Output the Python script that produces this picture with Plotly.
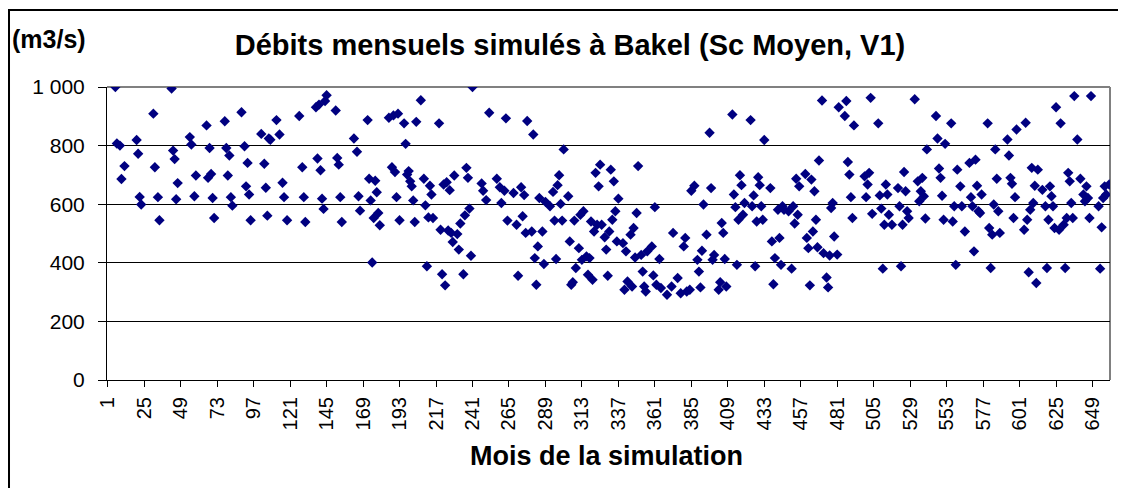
"""Débits mensuels simulés à Bakel - nuage de points mensuel."""

import plotly.graph_objects as go

# mois de la simulation (1..660) et débit simulé (m3/s)
mois = [
    6, 7, 9, 10, 12, 20, 21, 22, 23, 31, 32, 34, 35, 43, 44, 45, 46, 47,
    55, 56, 58, 59, 66, 67, 68, 69, 70, 71, 78, 79, 80, 81, 82, 83,
    89, 91, 92, 93, 94, 95, 102, 104, 105, 106, 107, 108,
    112, 114, 116, 117, 119, 127, 129, 130, 131, 138, 139, 140, 141, 142,
    143, 144, 145, 151, 152, 153, 154, 155, 163, 165, 166, 167, 172, 173,
    174, 175, 176, 177, 178, 179, 180, 186, 188, 189, 190, 191, 192, 193,
    196, 197, 198, 199, 200, 201, 202, 203, 204, 207, 209, 210, 211, 212,
    213, 214, 215, 219, 220, 221, 222, 223,
    224, 225, 226, 227, 228, 229, 231, 232, 233, 235, 236, 237, 238, 239,
    240, 241, 247, 248, 250, 252, 257, 259, 260, 262, 263, 264, 268, 270,
    271, 273, 274, 275, 276, 277, 280, 281, 282, 283, 284, 285, 287, 288,
    289, 292, 294, 295, 296, 297, 298, 299, 300, 301, 304, 305, 306, 307,
    308, 309, 311, 312, 313, 314, 316, 317, 318, 319, 320, 321, 322, 323,
    324, 325, 326, 328, 329, 330, 331, 332, 333, 334, 335, 336,
    337, 340, 341, 342, 343, 345, 346, 347, 348, 349, 350, 352, 353, 354,
    355, 356, 359, 360, 361, 362, 364, 365, 369, 372, 373, 376, 378, 380,
    381, 382, 384, 385, 387, 389, 390, 391, 392, 393, 395, 397, 398, 399,
    400, 403, 404, 405, 406, 407, 408, 412, 413, 414, 415, 416, 417, 418,
    419, 420, 424, 425, 426, 427, 428, 429, 430, 431, 432, 433, 437, 438,
    439, 440, 442, 443, 444, 445,
    446, 449, 451, 452, 453, 454, 455, 456, 460, 461, 462, 463, 464, 465,
    466, 467, 468, 469, 471, 472, 474, 475, 476, 477, 478, 479, 481, 482,
    486, 487, 488, 489, 490, 491, 492, 499, 500, 501, 502, 503, 504, 508,
    509, 510, 511, 512, 513, 514, 515, 517, 521, 522, 523, 524, 525, 526,
    527, 528, 532, 534, 535, 536, 537, 538, 539, 540, 546, 547, 548, 549,
    550, 551, 552, 556, 557, 558, 559,
    560, 562, 563, 565, 568, 569, 570, 571, 572, 573, 574, 575, 576, 580,
    581, 582, 583, 584, 585, 586, 587, 588, 593, 594, 595, 596, 597, 598,
    599, 604, 605, 606, 607, 608, 609, 610, 611, 612, 613, 616, 618, 619,
    620, 621, 622, 623, 624, 625, 627, 628, 630, 631, 632, 633, 634, 635,
    636, 637, 639, 641, 643, 644, 645, 646, 647, 648, 653, 654, 655, 656,
    657, 658, 660,
]
debits = [
    1000, 807, 800, 686, 730, 819, 772, 625, 599, 909, 726, 624, 545, 995, 783, 754, 617, 672,
    829, 804, 627, 698, 869, 690, 792, 703, 621, 553, 883, 792, 698, 766, 624, 595,
    914, 798, 661, 741, 633, 545, 840, 738, 656, 561, 824, 820,
    887, 838, 673, 624, 545, 901, 726, 624, 539, 931, 756, 940, 716, 619,
    584, 952, 972, 920, 758, 735, 624, 539, 824, 779, 627, 578, 887, 687,
    613, 401, 553, 680, 641, 570, 528, 895, 726, 903, 710, 624, 909, 545,
    876, 806, 701, 713, 678, 661, 613, 539, 881, 955, 687, 596, 388, 555,
    663, 633, 553, 876, 513, 361, 667, 323,
    675, 510, 648, 502, 471, 698, 498, 445, 534, 361, 562, 724, 690, 585,
    424, 1000, 671, 646, 614, 912, 687, 658, 604, 646, 893, 544, 638, 530,
    356, 658, 559, 631, 502, 884, 507, 838, 416, 325, 456, 621, 507, 396,
    608, 593, 642, 544, 413, 665, 699, 601, 544, 787, 627, 473, 325, 334,
    544, 382, 450, 564, 410, 576, 422, 359, 416, 541, 342, 507, 707, 530,
    661, 735, 530, 487, 445, 356, 507, 718, 547, 678, 576, 473,
    619, 467, 308, 439, 336, 496, 319, 519, 418, 570, 730, 427, 370, 319,
    302, 439, 456, 357, 590, 325, 413, 314, 291, 319, 502, 348, 296, 456,
    485, 302, 308, 646, 663, 410, 370, 316, 441, 599, 496, 844, 655, 410,
    427, 308, 334, 536, 502, 413, 319, 906, 633, 590, 393, 547, 699, 665,
    564, 604, 887, 593, 630, 388, 541, 692, 665, 593, 547, 819, 655, 473,
    327, 416, 581, 485, 393, 593,
    581, 576, 380, 593, 534, 687, 564, 661, 703, 485, 450, 323, 684, 507,
    644, 547, 453, 749, 954, 433, 350, 316, 425, 587, 604, 490, 428, 931,
    901, 952, 744, 701, 624, 553, 869, 695, 624, 667, 707, 963, 567, 876,
    630, 585, 380, 530, 667, 633, 564, 530, 655, 593, 388, 530, 710, 644,
    576, 553, 958, 678, 610, 644, 690, 627, 551, 787, 901, 824, 722, 690,
    629, 547, 806, 876, 541, 593, 393,
    718, 661, 593, 507, 741, 624, 593, 439, 752, 663, 576, 570, 633, 876,
    519, 382, 496, 599, 787, 687, 576, 502, 821, 766, 690, 670, 553, 624,
    855, 513, 878, 547, 368, 581, 724, 604, 663, 331, 718, 649, 593, 382,
    547, 661, 627, 593, 519, 931, 513, 876, 530, 382, 553, 707, 678, 604,
    553, 969, 821, 687, 633, 610, 661, 621, 553, 969, 593, 380, 521, 621,
    661, 633, 667,
]

x_ticks = list(range(1, 650, 24))
y_ticks = [0, 200, 400, 600, 800, 1000]
y_tick_labels = ["0", "200", "400", "600", "800", "1 000"]

FONT = "Arial, 'Liberation Sans', sans-serif"

fig = go.Figure(
    go.Scatter(
        x=mois,
        y=debits,
        mode="markers",
        marker=dict(symbol="diamond", size=8, color="#000080", line=dict(width=0)),
        showlegend=False,
    )
)

# la page ajoute 8 px de marge autour de la figure
fig.update_layout(
    width=1118,
    height=480,
    margin=dict(l=99, r=16, t=79, b=108),
    paper_bgcolor="white",
    plot_bgcolor="white",
    font=dict(family=FONT, color="black"),
    title=dict(
        text="<b>Débits mensuels simulés à Bakel (Sc Moyen, V1)</b>",
        font=dict(size=29, family=FONT, color="black"),
        x=0.5027,
        xanchor="center",
        y=0.923,
        yanchor="middle",
    ),
)

fig.update_xaxes(
    range=[0.5, 660.5],
    tickmode="array",
    tickvals=x_ticks,
    ticktext=[str(t) for t in x_ticks],
    tickangle=-90,
    ticks="outside",
    ticklen=6,
    tickcolor="black",
    tickfont=dict(size=20, family=FONT, color="black"),
    ticklabelstandoff=2,
    showline=True,
    linecolor="black",
    linewidth=1,
    showgrid=False,
    zeroline=False,
)

fig.update_yaxes(
    range=[0, 1000],
    tickmode="array",
    tickvals=y_ticks,
    ticktext=y_tick_labels,
    ticks="outside",
    ticklen=8,
    tickcolor="black",
    tickfont=dict(size=21, family=FONT, color="black"),
    ticklabelstandoff=9,
    showline=True,
    linecolor="black",
    linewidth=1,
    showgrid=True,
    gridcolor="black",
    gridwidth=1,
    zeroline=False,
)

# bord gris du cadre du tracé (haut et droite)
fig.add_shape(type="line", xref="paper", yref="paper", x0=0, x1=1, y0=1, y1=1,
              line=dict(color="#808080", width=2), layer="between")
fig.add_shape(type="line", xref="paper", yref="paper", x0=1, x1=1, y0=0, y1=1,
              line=dict(color="#808080", width=2), layer="between")

# cadre extérieur du graphique (haut et gauche visibles)
fig.add_shape(type="rect", xref="paper", yref="paper",
              x0=-0.0977, x1=1.05, y0=-0.45, y1=1.2628,
              line=dict(color="black", width=2), layer="below")

fig.add_annotation(
    text="<b>(m3/s)</b>", xref="paper", yref="paper",
    x=-0.0578, y=1.1655, xanchor="center", yanchor="middle",
    showarrow=False, font=dict(size=25, family=FONT, color="black"),
)
fig.add_annotation(
    text="<b>Mois de la simulation</b>", xref="paper", yref="paper",
    x=0.4985, y=-0.259, xanchor="center", yanchor="middle",
    showarrow=False, font=dict(size=27, family=FONT, color="black"),
)

fig.write_html("out.html")
